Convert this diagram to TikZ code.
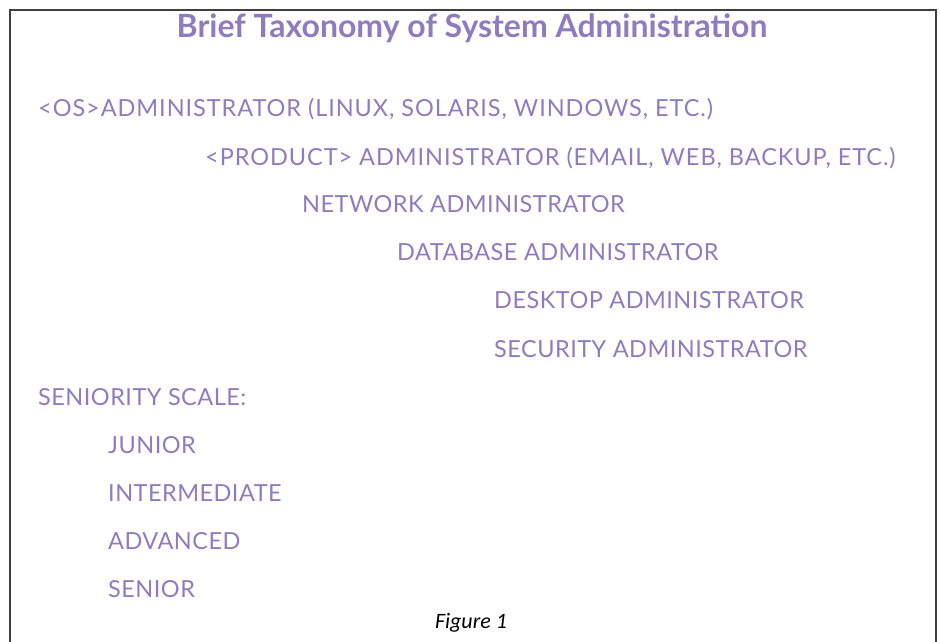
\documentclass[tikz,border=0pt]{standalone}
\usepackage{fontspec}
\setmainfont{Lato}
\newfontfamily\itemfont[LetterSpace=2]{Lato}
\newfontfamily\wideitemfont[LetterSpace=4]{Lato}
\newfontfamily\figfont{Carlito}
\definecolor{lav}{HTML}{8E7CC0}
\begin{document}
\begin{tikzpicture}[x=1pt,y=-1pt,
  item/.style={anchor=base west,inner sep=0pt,text=lav,font=\itemfont\fontsize{23.5}{26}\selectfont},
  wideitem/.style={item,font=\wideitemfont\fontsize{23.5}{26}\selectfont},
  ttl/.style={anchor=base,inner sep=0pt,text=lav,font=\fontsize{32}{36}\selectfont\bfseries},
  figcap/.style={anchor=base,inner sep=0pt,text=black,font=\figfont\itshape\fontsize{22}{26}\selectfont}]
\useasboundingbox (0,0) rectangle (940,642);
\draw[line width=2.2pt,black!75] (10,642) -- (10,10) -- (936,10) -- (936,642);
\node[ttl] (title) at (472,38) {Brief Taxonomy of System Administration};
\node[wideitem] (l1) at (38,117) {<OS>ADMINISTRATOR (LINUX, SOLARIS, WINDOWS, ETC.)};
\node[wideitem] (l2) at (205,165) {<PRODUCT> ADMINISTRATOR (EMAIL, WEB, BACKUP, ETC.)};
\node[item] (l3) at (302,212) {NETWORK ADMINISTRATOR};
\node[item] (l4) at (397,260) {DATABASE ADMINISTRATOR};
\node[item] (l5) at (494,308) {DESKTOP ADMINISTRATOR};
\node[item] (l6) at (494,357) {SECURITY ADMINISTRATOR};
\node[item] (l7) at (38,405) {SENIORITY SCALE:};
\node[item] (l8) at (108,453) {JUNIOR};
\node[item] (l9) at (108,501) {INTERMEDIATE};
\node[item] (l10) at (108,549) {ADVANCED};
\node[item] (l11) at (108,597) {SENIOR};
\node[figcap] (fig) at (471,628) {Figure 1};
\end{tikzpicture}
\end{document}
